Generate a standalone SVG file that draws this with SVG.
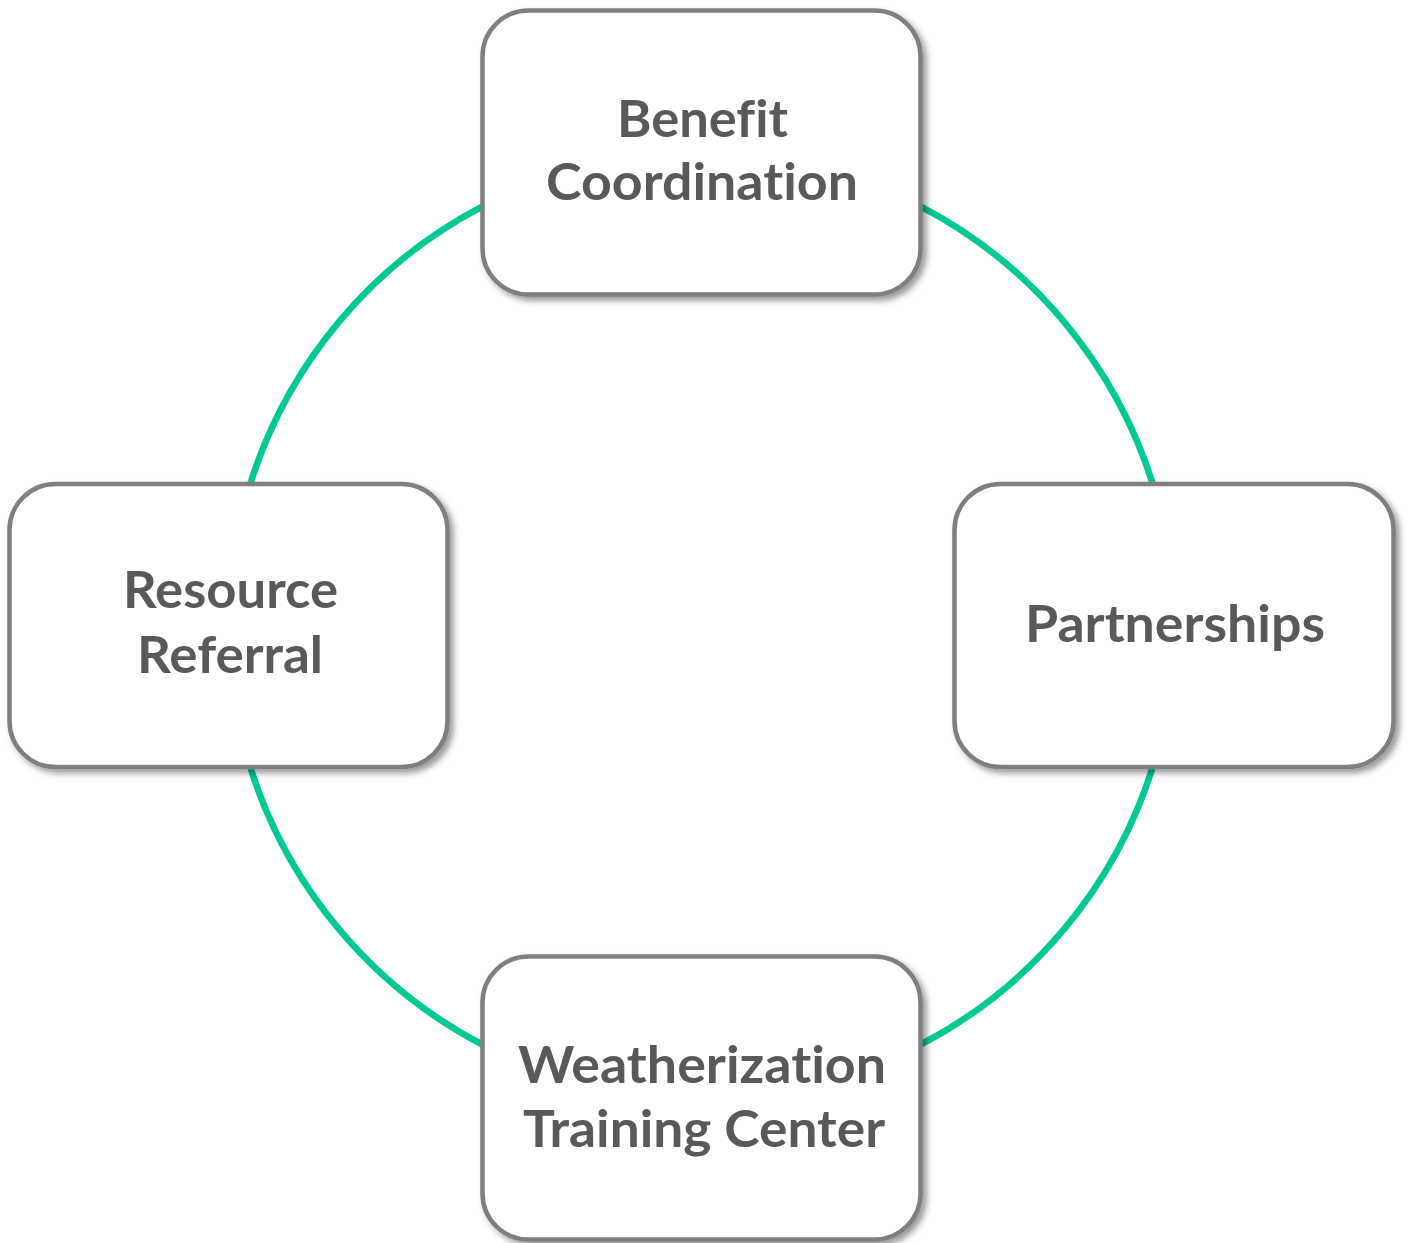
<svg xmlns="http://www.w3.org/2000/svg" width="1408" height="1243" viewBox="0 0 1408 1243">
<defs>
<filter id="sh" x="-10%" y="-10%" width="125%" height="125%">
<feDropShadow dx="4" dy="4" stdDeviation="3" flood-color="#000" flood-opacity="0.4"/>
</filter>
<style>
.box{fill:#fff;stroke:#7f7f7f;stroke-width:4.5;filter:url(#sh)}
.lbl{font-family:Lato,"Open Sans","Liberation Sans",sans-serif;font-weight:bold;font-size:51px;fill:#595959;font-variant-ligatures:none;font-feature-settings:"liga" 0}
.arc{fill:none;stroke:#00c994;stroke-width:6.5}
</style>
</defs>
<rect width="1408" height="1243" fill="#fff"/>
<g id="connectors">
<path class="arc" d="M920.5,206.3 A473,473 0 0 1 1152.8,484"/>
<path class="arc" d="M1152.8,767 A473,473 0 0 1 920.5,1044.7"/>
<path class="arc" d="M482.5,1044.7 A473,473 0 0 1 250.2,767"/>
<path class="arc" d="M250.2,484 A473,473 0 0 1 482.5,206.3"/>
</g>
<g id="benefit">
<rect class="box" x="482.5" y="10.5" width="438" height="284" rx="46"/>
<text class="lbl" x="702.5" y="137" text-anchor="middle" textLength="171" lengthAdjust="spacingAndGlyphs">Benefit</text>
<text class="lbl" x="702" y="200" text-anchor="middle" textLength="312" lengthAdjust="spacingAndGlyphs">Coordination</text>
</g>
<g id="partnerships">
<rect class="box" x="954.5" y="484" width="439" height="283" rx="46"/>
<text class="lbl" x="1175" y="642" text-anchor="middle" textLength="300" lengthAdjust="spacingAndGlyphs">Partnerships</text>
</g>
<g id="weatherization">
<rect class="box" x="482.5" y="956.5" width="438" height="283" rx="46"/>
<text class="lbl" x="702" y="1083" text-anchor="middle" textLength="368" lengthAdjust="spacingAndGlyphs">Weatherization</text>
<text class="lbl" x="704" y="1147" text-anchor="middle" textLength="362" lengthAdjust="spacingAndGlyphs">Training Center</text>
</g>
<g id="resource">
<rect class="box" x="9.5" y="484" width="438" height="283" rx="46"/>
<text class="lbl" x="230.5" y="608" text-anchor="middle" textLength="215" lengthAdjust="spacingAndGlyphs">Resource</text>
<text class="lbl" x="230" y="673" text-anchor="middle" textLength="186" lengthAdjust="spacingAndGlyphs">Referral</text>
</g>
</svg>
